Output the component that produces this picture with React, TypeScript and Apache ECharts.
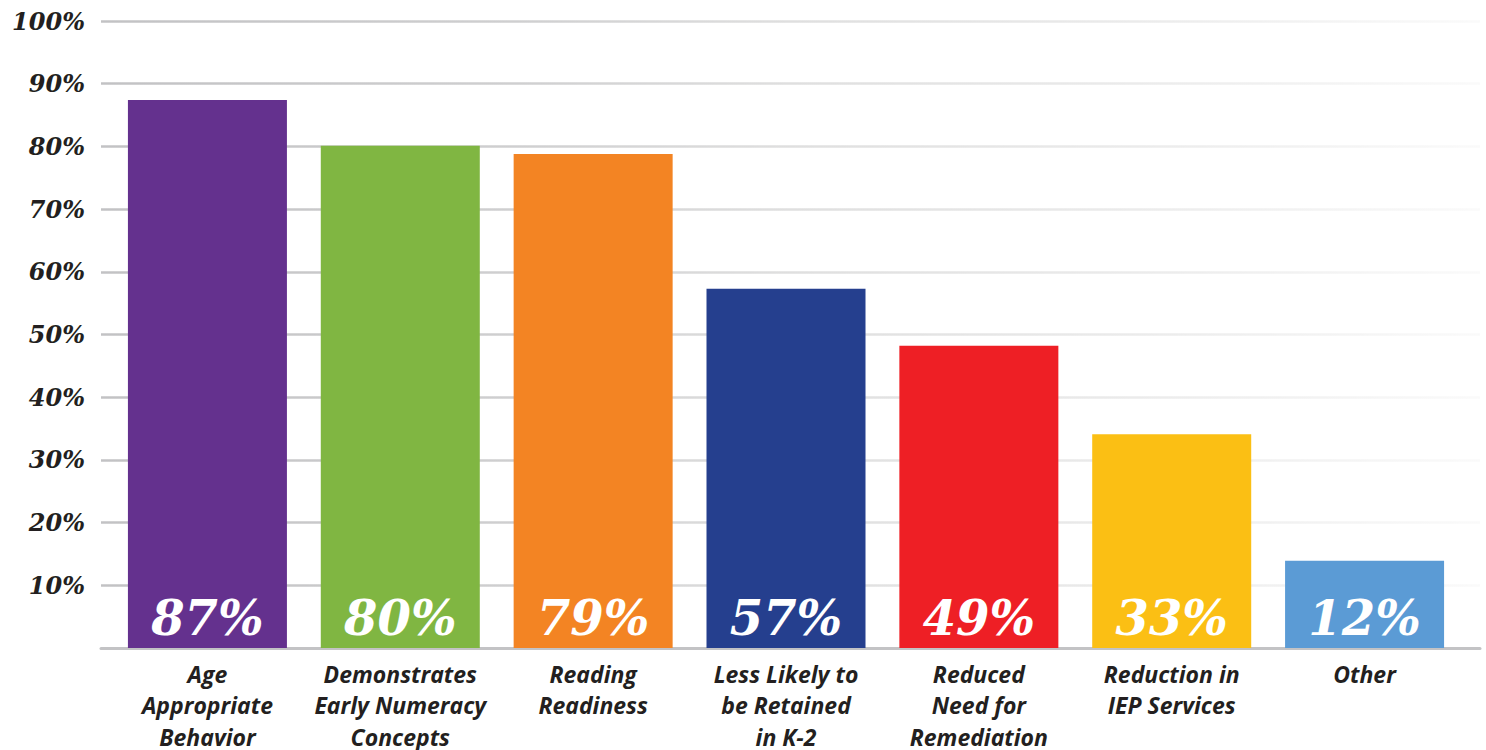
import React, { useEffect, useRef } from "react";
import * as echarts from "echarts";

const categories = [
  "Age\nAppropriate\nBehavior",
  "Demonstrates\nEarly Numeracy\nConcepts",
  "Reading\nReadiness",
  "Less Likely to\nbe Retained\nin K-2",
  "Reduced\nNeed for\nRemediation",
  "Reduction in\nIEP Services",
  "Other",
];
// bar heights as drawn
const barValues = [87.4, 80.1, 78.8, 57.3, 48.2, 34.1, 13.9];
// printed labels
const valueLabels = ["87%", "80%", "79%", "57%", "49%", "33%", "12%"];
const barColors = ["#64318e", "#80b642", "#f38423", "#253f8e", "#ee1f25", "#fbbf14", "#5b9bd5"];
const yTicks = [0, 10, 20, 30, 40, 50, 60, 70, 80, 90, 100];

export default function App() {
  const ref = useRef<HTMLDivElement>(null);
  useEffect(() => {
    document.body.style.margin = "0";
    const chart = echarts.init(ref.current!, null, { renderer: "svg" });
    const gridGrad = new echarts.graphic.LinearGradient(
      101, 0, 1480, 0,
      [
        { offset: 0, color: "#c2c2c4" },
        { offset: 0.3, color: "#cfcfd0" },
        { offset: 0.5, color: "#dfdfdf" },
        { offset: 0.75, color: "#ebebeb" },
        { offset: 1, color: "#fafafa" },
      ],
      true
    );
    chart.setOption({
      animation: false,
      grid: [
        { left: 101, right: 6, top: 21, bottom: 102, containLabel: false, outerBoundsMode: "none" },
        { left: 111, right: 25, top: 21, bottom: 102, containLabel: false, outerBoundsMode: "none" },
      ],
      xAxis: [
        {
          gridIndex: 0,
          type: "category",
          data: [""],
          axisLine: { show: true, lineStyle: { color: "#c3c3c5", width: 3 } },
          axisTick: { show: false },
          axisLabel: { show: false },
          splitLine: { show: false },
        },
        {
          gridIndex: 1,
          type: "category",
          data: categories,
          axisLine: { show: false },
          axisTick: { show: false },
          axisLabel: {
            interval: 0,
            margin: 10,
            color: "#231f20",
            fontFamily: "Open Sans",
            fontWeight: "bold",
            fontStyle: "italic",
            fontSize: 23,
            lineHeight: 31.5,
            verticalAlign: "top",
          },
        },
      ],
      yAxis: [
        {
          gridIndex: 0,
          type: "value",
          min: yTicks[0],
          max: yTicks[yTicks.length - 1],
          interval: 10,
          axisLine: { show: false },
          axisTick: { show: false },
          axisLabel: {
            margin: 16,
            color: "#231f20",
            fontFamily: "DejaVu Serif",
            fontWeight: "bold",
            fontStyle: "italic",
            fontSize: 24,
            formatter: (v: number) => (v === 0 ? "" : v + "%"),
          },
          splitLine: { show: true, lineStyle: { color: gridGrad, width: 2.5 } },
        },
        {
          gridIndex: 1,
          type: "value",
          min: 0,
          max: 100,
          show: false,
          splitLine: { show: false },
        },
      ],
      series: [
        {
          type: "bar",
          xAxisIndex: 1,
          yAxisIndex: 1,
          barWidth: 159,
          data: barValues.map((v, i) => ({ value: v, itemStyle: { color: barColors[i] } })),
          label: {
            show: true,
            position: "insideBottom",
            distance: 6,
            color: "#ffffff",
            fontFamily: "DejaVu Serif",
            fontWeight: "bold",
            fontStyle: "italic",
            fontSize: 48,
            formatter: (p: any) => valueLabels[p.dataIndex],
          },
        },
      ],
    });
    return () => chart.dispose();
  }, []);
  return <div ref={ref} style={{ width: 1486, height: 750 }} />;
}
